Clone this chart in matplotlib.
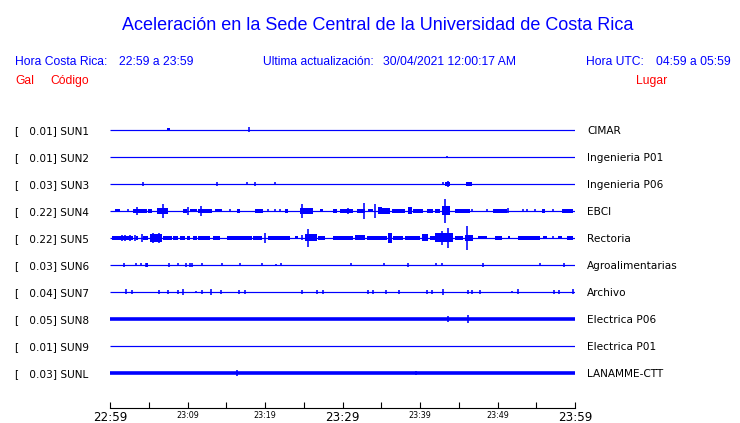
import matplotlib
matplotlib.use("Agg")
import matplotlib.pyplot as plt

W, H = 740, 423
BLUE = "#0000ff"
RED = "#ff0000"

# stations, peak acceleration [gal] and place names
STATIONS = ["SUN1", "SUN2", "SUN3", "SUN4", "SUN5", "SUN6", "SUN7", "SUN8", "SUN9", "SUNL"]
GAL = [0.01, 0.01, 0.03, 0.22, 0.22, 0.03, 0.04, 0.05, 0.01, 0.03]
PLACES = ["CIMAR", "Ingenieria P01", "Ingenieria P06", "EBCI", "Rectoria",
          "Agroalimentarias", "Archivo", "Electrica P06", "Electrica P01", "LANAMME-CTT"]

# half-thickness of the background noise band of each trace (px)
NOISE_PX = [0.6, 0.6, 0.6, 0.6, 0.6, 0.6, 0.6, 1.8, 0.6, 1.8]

# single spikes: (minutes after 22:59, half amplitude px)
SUN1_SPIKES = [(7.5, 1.5), (17.9, 2.5)]
SUN2_SPIKES = [(43.5, 1.2)]
SUN3_SPIKES = [(4.3, 2), (13.8, 2), (17.7, 1.5), (18.7, 2), (21.3, 1.5), (43.0, 1.5), (43.6, 3)]
SUN4_SPIKES = [(2.3, 1.5), (3.48, 4), (6.84, 7), (10.06, 4), (11.74, 5), (15.48, 1.5),
               (20.39, 1.5), (21.29, 1.5), (21.94, 1.5), (24.77, 7), (30.71, 3), (32.77, 8),
               (34.19, 7), (43.23, 12), (46.71, 1.5), (48.65, 1.5), (51.35, 2.5), (53.29, 1.5),
               (53.81, 1.5), (54.84, 1.5), (57.16, 1.5)]
SUN5_SPIKES = [(1.55, 3), (1.94, 3), (2.58, 3), (3.23, 3), (4.13, 4), (5.5, 5), (6.3, 5),
               (20.0, 5), (24.77, 2.5), (25.55, 9), (42.8, 7), (43.61, 10), (46.06, 12),
               (57.16, 1.5)]
SUN6_SPIKES = [(1.8, 2), (3.35, 1.5), (4.0, 1.5), (4.7, 2), (7.6, 2), (8.8, 1.5), (9.8, 2),
               (10.3, 2), (10.6, 2), (11.9, 1.5), (14.45, 1.5), (16.8, 1.5), (19.6, 1.5),
               (21.4, 1), (22.1, 1.5), (31.1, 1.5), (35.4, 1.5), (38.5, 2), (42.1, 1.5),
               (42.8, 1.5), (48.1, 2), (55.5, 1.5), (58.6, 2)]
SUN7_SPIKES = [(2.1, 2.5), (2.8, 2), (6.3, 2), (7.5, 2), (8.8, 2), (9.4, 3), (11.1, 1),
               (11.9, 2), (13.0, 3), (14.3, 2), (16.6, 2), (17.4, 2), (24.8, 2), (26.7, 2),
               (27.5, 2), (33.3, 2), (33.9, 2), (35.6, 2), (37.3, 2), (40.9, 2), (41.6, 2),
               (43.0, 3), (46.2, 2), (46.7, 2), (47.7, 2), (51.9, 1), (52.6, 2.5), (57.3, 2),
               (57.9, 2), (59.7, 2.5)]
SUN8_SPIKES = [(43.6, 3), (46.2, 4)]
SUN9_SPIKES = []
SUNL_SPIKES = [(16.4, 3), (39.5, 2)]

# bursts of shaking: (start min, end min, half amplitude px)
SUN1_BURSTS = [(7.4, 7.7, 1.5)]
SUN3_BURSTS = [(43.2, 43.9, 2.0), (45.9, 46.7, 2.0)]
SUN4_BURSTS = [(0.65, 1.29, 1.5), (2.97, 4.77, 2), (4.9, 5.42, 2), (6.06, 7.48, 2.8),
               (9.42, 9.94, 2), (10.32, 11.23, 1.5), (11.35, 13.16, 2), (13.55, 14.45, 1.5),
               (16.39, 16.77, 2), (18.71, 19.74, 2), (22.58, 22.97, 2), (24.52, 26.19, 2.8),
               (27.1, 27.48, 1.5), (28.77, 29.29, 2), (29.68, 31.35, 2), (31.87, 32.9, 2),
               (33.29, 33.94, 1.5), (34.58, 35.1, 3.5), (35.1, 36.13, 2.8), (36.39, 38.06, 2),
               (38.45, 38.97, 3.5), (39.1, 40.39, 2), (40.9, 41.68, 1.7), (41.94, 42.58, 2),
               (42.84, 43.87, 4.5), (44.52, 46.45, 2), (49.42, 51.23, 1.7), (55.74, 56.13, 1.7),
               (58.32, 59.74, 1.7)]
SUN5_BURSTS = [(0.26, 2.97, 2), (3.35, 3.61, 2), (4.26, 4.9, 2), (5.16, 6.71, 4.2),
               (6.84, 8.0, 2), (8.13, 8.77, 1.7), (9.03, 9.68, 2), (9.94, 10.32, 1.7),
               (10.71, 11.23, 2), (11.35, 12.9, 2), (13.29, 14.19, 2), (15.1, 18.32, 2),
               (18.45, 19.61, 2), (20.39, 23.23, 2), (23.87, 24.26, 1.5), (25.16, 26.71, 3.5),
               (26.84, 27.74, 1.7), (28.77, 31.35, 2), (31.61, 32.9, 2.5), (33.16, 35.74, 2),
               (35.87, 36.39, 5), (36.52, 37.81, 2), (38.06, 40.0, 2), (40.26, 41.03, 3.5),
               (41.29, 41.94, 2), (41.94, 44.26, 4.5), (44.52, 45.55, 2), (45.81, 46.84, 2.8),
               (47.48, 48.65, 1.5), (49.68, 50.58, 2), (51.35, 51.61, 1.5), (52.65, 55.48, 1.7),
               (55.87, 56.39, 1.5), (57.81, 58.32, 1.5), (58.97, 59.74, 1.7)]
SUN6_BURSTS = [(4.65, 4.9, 2)]

SPIKES = [SUN1_SPIKES, SUN2_SPIKES, SUN3_SPIKES, SUN4_SPIKES, SUN5_SPIKES,
          SUN6_SPIKES, SUN7_SPIKES, SUN8_SPIKES, SUN9_SPIKES, SUNL_SPIKES]
BURSTS = [SUN1_BURSTS, [], SUN3_BURSTS, SUN4_BURSTS, SUN5_BURSTS,
          SUN6_BURSTS, [], [], [], []]

TICK_MIN = list(range(0, 61, 5))
TICK_LABELS = ["22:59", "", "23:09", "", "23:19", "", "23:29", "", "23:39", "", "23:49", "", "23:59"]
BIG_LABELS = ("22:59", "23:29", "23:59")

# layout in pixels from the top-left corner
ROW0, ROW_STEP = 130, 27
AX_L, AX_R, AX_T, AX_B = 110, 575, 115, 408
PT = 72 / 100  # points per pixel at dpi 100


def fx(x):
    return x / W


def fy(y):
    return 1 - y / H


fig = plt.figure(figsize=(W / 100, H / 100), dpi=100)
fig.patch.set_facecolor("white")
ax = fig.add_axes([fx(AX_L), fy(AX_B), (AX_R - AX_L) / W, (AX_B - AX_T) / H])
ax.set_xlim(0, 60)
ax.set_ylim(AX_B, AX_T)

for i, code in enumerate(STATIONS):
    y0 = ROW0 + i * ROW_STEP
    ax.hlines(y0, 0, 60, color=BLUE, lw=2 * NOISE_PX[i] * PT)
    if BURSTS[i]:
        t0 = [b[0] for b in BURSTS[i]]
        dt = [b[1] - b[0] for b in BURSTS[i]]
        amp = [b[2] for b in BURSTS[i]]
        ax.bar(t0, [2 * a for a in amp], width=dt, bottom=[y0 - a for a in amp],
               align="edge", color=BLUE, lw=0)
    if SPIKES[i]:
        t = [s[0] for s in SPIKES[i]]
        amp = [s[1] for s in SPIKES[i]]
        ax.vlines(t, [y0 - a for a in amp], [y0 + a for a in amp], color=BLUE, lw=1.6 * PT)

    label_kw = dict(fontsize=7.6, family="DejaVu Sans", color="black", va="baseline")
    fig.text(fx(15), fy(y0 + 4), f"[   {GAL[i]:.2f}] {code}", ha="left", **label_kw)
    fig.text(fx(587), fy(y0 + 4), PLACES[i], ha="left", **label_kw)

for side in ("left", "right", "top"):
    ax.spines[side].set_visible(False)
ax.spines["bottom"].set_linewidth(0.8)
ax.set_yticks([])
ax.set_xticks(TICK_MIN, TICK_LABELS)
ax.tick_params(axis="x", direction="in", length=6 * PT, width=0.8, pad=2.5)
for lbl in ax.get_xticklabels():
    lbl.set_fontsize(8.6 if lbl.get_text() in BIG_LABELS else 5.8)
    lbl.set_family("DejaVu Sans")

head = dict(family="Liberation Sans", va="baseline")
fig.text(fx(378), fy(30), "Aceleración en la Sede Central de la Universidad de Costa Rica",
         ha="center", fontsize=13, color=BLUE, **head)
fig.text(fx(15), fy(65), "Hora Costa Rica:", fontsize=8.7, color=BLUE, **head)
fig.text(fx(119), fy(65), "22:59 a 23:59", fontsize=8.7, color=BLUE, **head)
fig.text(fx(263), fy(65), "Ultima actualización:", fontsize=8.7, color=BLUE, **head)
fig.text(fx(383), fy(65), "30/04/2021 12:00:17 AM", fontsize=8.7, color=BLUE, **head)
fig.text(fx(586), fy(65), "Hora UTC:", fontsize=8.7, color=BLUE, **head)
fig.text(fx(731), fy(65), "04:59 a 05:59", ha="right", fontsize=8.7, color=BLUE, **head)
fig.text(fx(15), fy(84), "Gal", fontsize=8.7, color=RED, **head)
fig.text(fx(50), fy(84), "Código", fontsize=8.7, color=RED, **head)
fig.text(fx(636), fy(84), "Lugar", fontsize=8.7, color=RED, **head)

fig.savefig("out.png", dpi=100)
